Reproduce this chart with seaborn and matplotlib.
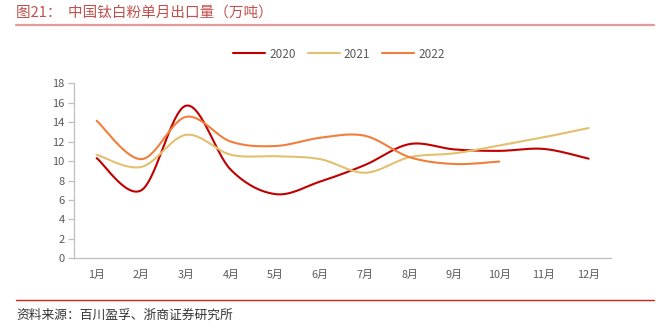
import numpy as np
import pandas as pd
import matplotlib
matplotlib.use("Agg")
import matplotlib.pyplot as plt
import seaborn as sns
from matplotlib.lines import Line2D

months = ["1月", "2月", "3月", "4月", "5月", "6月", "7月", "8月", "9月", "10月", "11月", "12月"]
v2020 = [10.3, 7.0, 15.7, 9.1, 6.6, 7.9, 9.6, 11.75, 11.2, 11.05, 11.25, 10.25]
v2021 = [10.65, 9.4, 12.7, 10.65, 10.5, 10.2, 8.8, 10.4, 10.8, 11.6, 12.45, 13.4]
v2022 = [14.15, 10.2, 14.55, 12.0, 11.55, 12.4, 12.6, 10.4, 9.7, 9.95]
series_names = ["2020", "2021", "2022"]
yticks = [0, 2, 4, 6, 8, 10, 12, 14, 16, 18]

colors = {"2020": "#C00000", "2021": "#E2C06F", "2022": "#F07F3C"}


def smooth(vals, n=30):
    # Bezier smoothing (Excel-style smoothed line) through the given points
    y = np.asarray(vals, float)
    x = np.arange(len(y), dtype=float)
    xs, ys = [], []
    for i in range(len(y) - 1):
        p0x, p0y = x[max(i - 1, 0)], y[max(i - 1, 0)]
        p1x, p1y = x[i], y[i]
        p2x, p2y = x[i + 1], y[i + 1]
        p3x, p3y = x[min(i + 2, len(y) - 1)], y[min(i + 2, len(y) - 1)]
        c1x, c1y = p1x + (p2x - p0x) / 6, p1y + (p2y - p0y) / 6
        c2x, c2y = p2x - (p3x - p1x) / 6, p2y - (p3y - p1y) / 6
        t = np.linspace(0, 1, n, endpoint=(i == len(y) - 2))
        b0, b1, b2, b3 = (1 - t) ** 3, 3 * (1 - t) ** 2 * t, 3 * (1 - t) * t ** 2, t ** 3
        xs.append(b0 * p1x + b1 * c1x + b2 * c2x + b3 * p2x)
        ys.append(b0 * p1y + b1 * c1y + b2 * c2y + b3 * p2y)
    return np.concatenate(xs), np.concatenate(ys)


sns.set_theme(style="white")
plt.rcParams["font.family"] = ["Noto Sans CJK SC", "DejaVu Sans"]

fig = plt.figure(figsize=(6.64, 3.31), dpi=100)
ax = fig.add_axes([74.3 / 664, 1 - 258.3 / 331, (611 - 74.3) / 664, (258.3 - 83.3) / 331])

frames = []
for name, vals in zip(series_names, [v2020, v2021, v2022]):
    sx, sy = smooth(vals)
    frames.append(pd.DataFrame({"x": sx, "y": sy, "series": name}))
df = pd.concat(frames, ignore_index=True)

sns.lineplot(data=df, x="x", y="y", hue="series", palette=colors, sort=False,
             estimator=None, linewidth=1.5, ax=ax, legend=False)

ax.set_xlim(-0.5, 11.5)
ax.set_ylim(0, 18)
ax.set_yticks(yticks)
ax.set_yticklabels([str(v) for v in yticks])
ax.set_xticks(range(len(months)))
ax.set_xticklabels(months)
ax.set_xticks(np.arange(-0.5, 12, 1), minor=True)
ax.set_xlabel("")
ax.set_ylabel("")

for s in ["top", "right"]:
    ax.spines[s].set_visible(False)
for s in ["left", "bottom"]:
    ax.spines[s].set_color("#BFBFBF")
    ax.spines[s].set_linewidth(0.9)

ax.tick_params(axis="x", which="major", length=0, labelsize=7.8, labelcolor="#595959", pad=8)
ax.tick_params(axis="x", which="minor", length=4, color="#BFBFBF", width=0.9, direction="out")
ax.tick_params(axis="y", which="major", length=4, color="#BFBFBF", width=0.9, direction="out",
               labelsize=8, labelcolor="#595959", pad=3, left=True)
ax.grid(False)

handles = [Line2D([0], [0], color=colors[n], lw=1.5) for n in series_names]
fig.legend(handles, series_names, loc="center", bbox_to_anchor=(339 / 664, 1 - 54 / 331),
           ncol=3, frameon=False, fontsize=8.5, handlelength=2.7, columnspacing=1.0,
           handletextpad=0.35, labelcolor="#595959")

fig.text(16 / 664, 1 - 12.5 / 331, "图21：  中国钛白粉单月出口量（万吨）", color="#C0504D",
         fontsize=10.5, va="center", ha="left")
fig.add_artist(Line2D([16 / 664, 654 / 664], [1 - 25 / 331, 1 - 25 / 331], color="#E39A9A", lw=1.6))
fig.add_artist(Line2D([16 / 664, 654 / 664], [1 - 300 / 331, 1 - 300 / 331], color="#D42020", lw=1.0))
fig.text(16 / 664, 1 - 315 / 331, "资料来源：百川盈孚、浙商证券研究所", color="#333333",
         fontsize=9.2, va="center", ha="left")

fig.savefig("out.png", dpi=100, facecolor="white")
